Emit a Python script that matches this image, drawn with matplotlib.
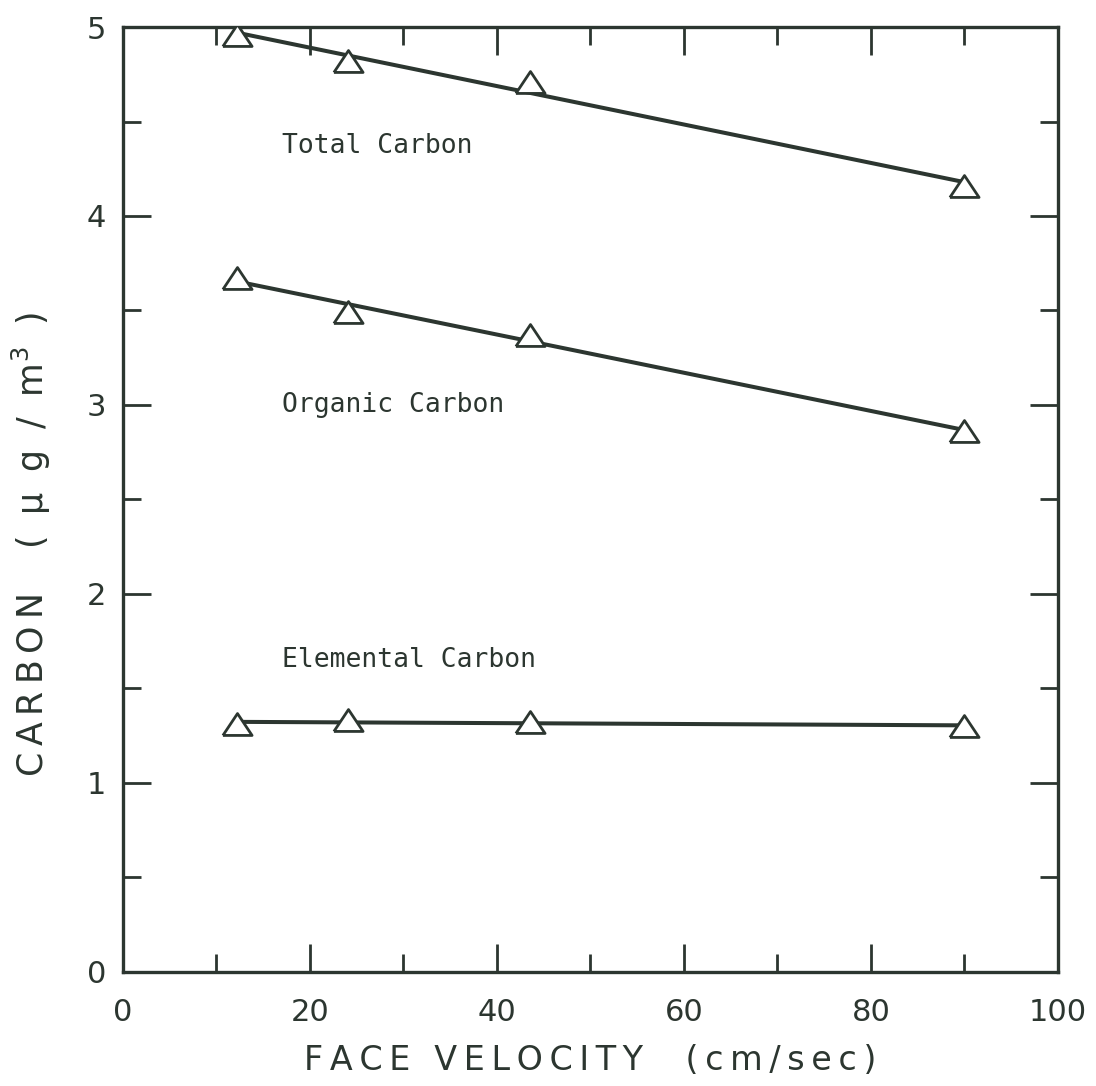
import numpy as np
import matplotlib
matplotlib.use("Agg")
import matplotlib.pyplot as plt
from matplotlib.ticker import MultipleLocator

# face velocity (cm/sec) of the four runs
velocity = [12.2, 24.1, 43.5, 90.0]

# measured carbon (ug/m3)
total_carbon = [4.96, 4.82, 4.71, 4.16]
organic_carbon = [3.67, 3.49, 3.37, 2.86]
elemental_carbon = [1.31, 1.33, 1.32, 1.30]

series_names = ["Total Carbon", "Organic Carbon", "Elemental Carbon"]
label_pos = [(17.0, 4.37), (17.0, 3.0), (17.0, 1.65)]

ink = "#2c3630"
# slightly squat open triangle
tri = [(-1.0, -0.75), (1.0, -0.75), (0.0, 0.75), (-1.0, -0.75)]


def spaced(s, gap="\u2009"):
    # widen the lettering a little with thin spaces
    return gap.join(s)


fig = plt.figure(figsize=(10.96, 10.86), dpi=100)
ax = fig.add_axes([0.1122, 0.1053, 0.8531, 0.8698])

for ys in (total_carbon, organic_carbon, elemental_carbon):
    # straight least-squares line through each set
    slope, icpt = np.polyfit(velocity, ys, 1)
    xs = np.array([velocity[0], velocity[-1]])
    ax.plot(xs, slope * xs + icpt, color=ink, lw=2.9, solid_capstyle="butt", zorder=2)
    ax.plot(velocity, ys, ls="none", marker=tri, ms=21, mew=2.0,
            mfc="white", mec=ink, zorder=3)

for name, (tx, ty) in zip(series_names, label_pos):
    ax.text(tx, ty, name, family="DejaVu Sans Mono", fontsize=19,
            color=ink, va="center", ha="left")

ax.set_xlim(0, 100)
ax.set_ylim(0, 5)
ax.xaxis.set_major_locator(MultipleLocator(20))
ax.xaxis.set_minor_locator(MultipleLocator(10))
ax.yaxis.set_major_locator(MultipleLocator(1))
ax.yaxis.set_minor_locator(MultipleLocator(0.5))

ax.tick_params(which="both", direction="in", top=True, right=True,
               color=ink, width=2.0, labelcolor=ink)
ax.tick_params(which="major", length=20)
ax.tick_params(which="minor", length=13)
ax.tick_params(axis="x", which="major", pad=19, labelsize=22)
ax.tick_params(axis="y", which="major", pad=12, labelsize=22)

for sp in ax.spines.values():
    sp.set_color(ink)
    sp.set_linewidth(2.4)

ax.set_xlabel(spaced("FACE VELOCITY") + "    " + spaced("(cm/sec)"),
              fontsize=24, color=ink, labelpad=12)
unit = spaced("(μg/m", "\u2009\u2009\u2009") + "$^{3}$" + "\u2009\u2009\u2009)"
ax.set_ylabel(spaced("CARBON") + "    " + unit, fontsize=25, color=ink)
ax.yaxis.set_label_coords(-0.075, 0.452)

fig.savefig("out.png", dpi=100, facecolor="white")
